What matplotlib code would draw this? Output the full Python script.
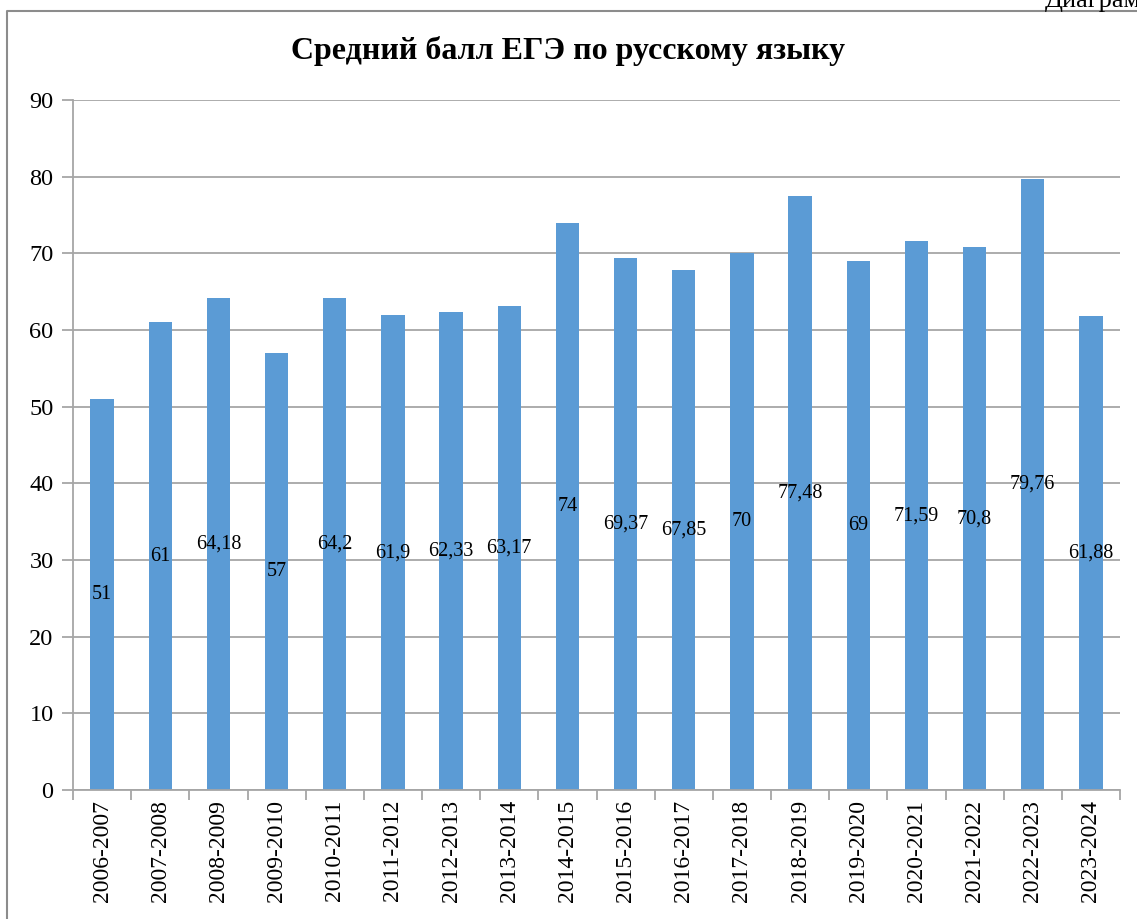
import matplotlib.pyplot as plt
from matplotlib.lines import Line2D

years = ["2006-2007", "2007-2008", "2008-2009", "2009-2010", "2010-2011", "2011-2012",
         "2012-2013", "2013-2014", "2014-2015", "2015-2016", "2016-2017", "2017-2018",
         "2018-2019", "2019-2020", "2020-2021", "2021-2022", "2022-2023", "2023-2024"]
scores = [51, 61, 64.18, 57, 64.2, 61.9, 62.33, 63.17, 74, 69.37, 67.85, 70,
          77.48, 69, 71.59, 70.8, 79.76, 61.88]
y_ticks = [0, 10, 20, 30, 40, 50, 60, 70, 80, 90]

plt.rcParams['font.family'] = ['Liberation Serif', 'DejaVu Serif']

W, H = 1137, 919
fig = plt.figure(figsize=(W / 100, H / 100), dpi=100)
ax = fig.add_axes([73 / W, 1 - 790 / H, (1120 - 73) / W, (790 - 100) / H])

grey = "#a6a6a6"
x = list(range(len(years)))
bars = ax.bar(x, scores, width=0.4, color="#5b9bd5", zorder=2)
ax.bar_label(bars, labels=[str(v).replace(".", ",") for v in scores],
             label_type="center", fontsize=14.5, color="black")

ax.set_xlim(-0.5, len(years) - 0.5)
ax.set_ylim(0, 90)
ax.set_yticks(y_ticks)
ax.yaxis.grid(True, color=grey, linewidth=1.3, zorder=0)
ax.set_axisbelow(True)

ax.set_xticks(x)
ax.set_xticklabels(years, rotation=90, fontsize=17)
ax.set_xticks([i - 0.5 for i in range(len(years) + 1)], minor=True)
ax.tick_params(axis="x", which="major", length=0, pad=7)
ax.tick_params(axis="x", which="minor", length=7, color=grey, width=1.3)
ax.tick_params(axis="y", length=8, color=grey, width=1.3, labelsize=17.5, pad=6)

for s in ["top", "right"]:
    ax.spines[s].set_visible(False)
for s in ["left", "bottom"]:
    ax.spines[s].set_color(grey)
    ax.spines[s].set_linewidth(1.3)

fig.text(0.5, 1 - 51 / H, "Средний балл ЕГЭ по русскому языку", ha="center", va="center",
         fontsize=23, fontweight="bold")
# подпись сверху справа обрезана краем, как в исходнике
fig.text(1045 / W, 1 - 7.5 / H, "Диаграмма", ha="left", va="baseline", fontsize=19)

# рамка вокруг диаграммы
fig.add_artist(Line2D([7 / W, 7 / W, 1.0], [0.0, 1 - 11 / H, 1 - 11 / H],
                      transform=fig.transFigure, color="#8c8c8c", linewidth=1.5))

fig.savefig("out.png", dpi=100)
